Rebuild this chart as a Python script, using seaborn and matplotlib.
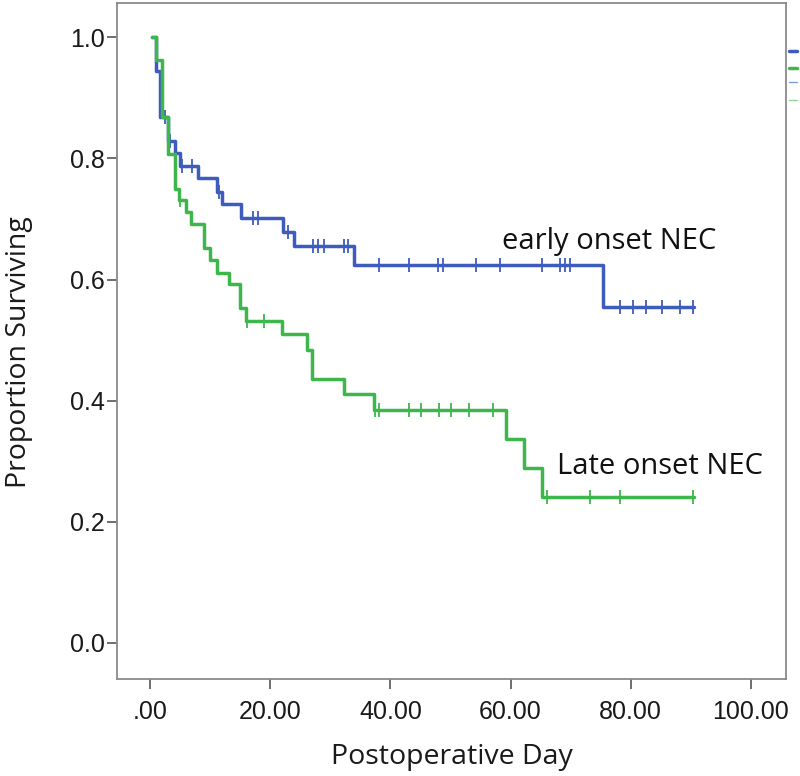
import matplotlib
matplotlib.use("Agg")
import matplotlib.pyplot as plt
from matplotlib.lines import Line2D
import numpy as np
import pandas as pd
import seaborn as sns

# ---- data ----
early_times = [0.3, 0.95, 1.7, 3.05, 4.2, 5.0, 8.0, 11.1, 11.9, 15.1, 22.1, 24.0, 34.0, 75.3, 90.5]
early_surv = [1.0, 0.944, 0.868, 0.829, 0.809, 0.788, 0.768, 0.745, 0.725, 0.701, 0.679, 0.655, 0.624, 0.554, 0.554]
early_cens_t = [2.5, 3.4, 5.4, 7.0, 11.5, 17.2, 18.0, 23.0, 27.2, 28.0, 28.9, 32.2, 33.0,
                38.1, 43.1, 48.0, 48.8, 54.2, 58.2, 65.3, 68.2, 69.1, 69.9,
                78.2, 80.4, 82.5, 85.2, 88.2, 90.4]
early_cens_s = [0.868, 0.829, 0.788, 0.788, 0.745, 0.701, 0.701, 0.679, 0.655, 0.655, 0.655, 0.655, 0.655,
                0.624, 0.624, 0.624, 0.624, 0.624, 0.624, 0.624, 0.624, 0.624, 0.624,
                0.554, 0.554, 0.554, 0.554, 0.554, 0.554]

late_times = [0.3, 0.95, 2.05, 3.0, 4.1, 4.9, 6.0, 6.8, 9.0, 10.0, 11.1, 13.2, 15.0, 15.9,
              22.0, 26.1, 27.0, 32.2, 37.2, 59.2, 62.2, 65.3, 90.5]
late_surv = [1.0, 0.963, 0.868, 0.808, 0.749, 0.731, 0.712, 0.691, 0.652, 0.632, 0.611, 0.592, 0.553, 0.532,
             0.510, 0.484, 0.435, 0.411, 0.385, 0.336, 0.288, 0.240, 0.240]
late_cens_t = [5.0, 16.2, 19.0, 37.4, 38.1, 43.1, 45.1, 48.1, 50.1, 53.1, 57.1, 66.0, 73.2, 78.2, 90.3]
late_cens_s = [0.731, 0.532, 0.532, 0.385, 0.385, 0.385, 0.385, 0.385, 0.385, 0.385, 0.385,
               0.240, 0.240, 0.240, 0.240]

x_ticks = [0, 20, 40, 60, 80, 100]
x_ticklabels = [".00", "20.00", "40.00", "60.00", "80.00", "100.00"]
y_ticks = [0.0, 0.2, 0.4, 0.6, 0.8, 1.0]
y_ticklabels = ["0.0", "0.2", "0.4", "0.6", "0.8", "1.0"]

BLUE = "#3d5cbd"
GREEN = "#3db64b"
TXT_FONT = ["Open Sans", "DejaVu Sans"]

sns.set_style("white")
plt.rcParams["font.family"] = ["Liberation Sans", "DejaVu Sans"]

fig = plt.figure(figsize=(8.0, 7.76), dpi=100)
ax = fig.add_axes([117 / 800, 1 - 679 / 776, (786 - 117) / 800, (679 - 3) / 776])

df_e = pd.DataFrame({"t": early_times, "s": early_surv})
df_l = pd.DataFrame({"t": late_times, "s": late_surv})
dfc_e = pd.DataFrame({"t": early_cens_t, "s": early_cens_s})
dfc_l = pd.DataFrame({"t": late_cens_t, "s": late_cens_s})

sns.lineplot(data=df_e, x="t", y="s", ax=ax, color=BLUE, lw=2.5, drawstyle="steps-post",
             estimator=None, sort=False)
sns.scatterplot(data=dfc_e, x="t", y="s", ax=ax, marker="|", s=110, color=BLUE, linewidth=1.3)
sns.lineplot(data=df_l, x="t", y="s", ax=ax, color=GREEN, lw=2.5, drawstyle="steps-post",
             estimator=None, sort=False)
sns.scatterplot(data=dfc_l, x="t", y="s", ax=ax, marker="|", s=110, color=GREEN, linewidth=1.3)

ax.set_xlim((117 - 150) / 6.01, (786 - 150) / 6.01)
ax.set_ylim((642.7 - 679) / 605, (642.7 - 3.3) / 605)

ax.set_xticks(x_ticks)
ax.set_xticklabels(x_ticklabels)
ax.set_yticks(y_ticks)
ax.set_yticklabels(y_ticklabels)
ax.tick_params(axis="both", which="major", direction="out", length=7, width=1.2,
               color="#555555", labelsize=18, labelcolor="#1a1a1a")
ax.tick_params(axis="x", pad=8)
ax.tick_params(axis="y", pad=2)
ax.tick_params(left=True, bottom=True)
for lab in ax.get_xticklabels() + ax.get_yticklabels():
    lab.set_family(["Liberation Sans", "DejaVu Sans"])

for sp in ax.spines.values():
    sp.set_visible(True)
    sp.set_color("#8a8a8a")
    sp.set_linewidth(1.3)

ax.set_xlabel("Postoperative Day", family=TXT_FONT, fontsize=20.5, color="#1a1a1a", va="center")
ax.set_ylabel("Proportion Surviving", family=TXT_FONT, fontsize=20.5, color="#1a1a1a", va="center")
ax.xaxis.set_label_coords(0.5, (679 - 757) / 676)
ax.yaxis.set_label_coords((19 - 117) / 669, (679 - 352) / 676)

ax.text(58.5, 0.663, "early onset NEC", family=TXT_FONT, fontsize=21,
        color="#111111", va="center", ha="left")
ax.text(67.7, 0.291, "Late onset NEC", family=TXT_FONT, fontsize=21,
        color="#111111", va="center", ha="left")

# cut-off legend fragment at the right edge
for yy, col, w in [(51, BLUE, 2.5), (68, GREEN, 2.5), (82, "#7f9be0", 1.0), (100, "#8fd69a", 1.0)]:
    fig.add_artist(Line2D([789 / 800, 797 / 800], [1 - yy / 776, 1 - yy / 776],
                          color=col, lw=w, transform=fig.transFigure))

fig.savefig("out.png", dpi=100, facecolor="white")
